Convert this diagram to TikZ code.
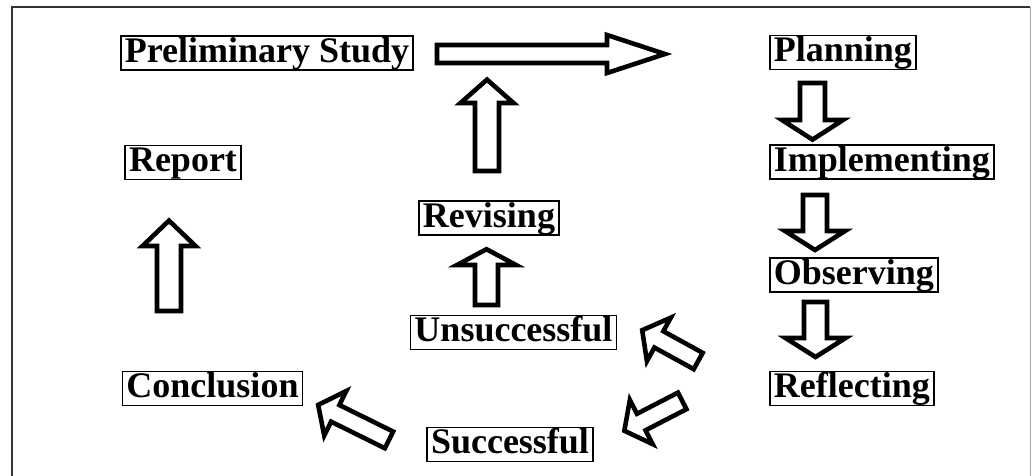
\documentclass[tikz,border=0pt]{standalone}
\usepackage{fontspec}
\setmainfont{Liberation Serif}
\tikzset{
  box/.style={draw=black, line width=1.8pt, fill=white, font=\fontsize{36}{40}\selectfont\bfseries,
    text height=25pt, text depth=7pt, inner xsep=4pt, inner ysep=1pt},
  barrow/.style={draw=black, fill=white, line width=4.6pt, line join=miter}
}
\newcommand\blockarrow[7]{%
  \draw[barrow, shift={(#1,#2)}, rotate=#3]
    (0,#6) -- (#4-#5,#6) -- (#4-#5,#7) -- (#4,0) -- (#4-#5,-#7) -- (#4-#5,-#6) -- (0,-#6) -- cycle;}
\begin{document}
\begin{tikzpicture}[x=1pt,y=-1pt]
\useasboundingbox (0,0) rectangle (1033,475);
% frame
\draw[line width=2pt, black!80] (11.5,476) -- (11.5,7) -- (1030,7);
\draw[line width=1pt, black!35] (1030,7) -- (1030,476);
% nodes
\node[box] (prelim) at (267,53) {Preliminary Study};
\node[box, anchor=west] (planning) at (769,52.5) {Planning};
\node[box, anchor=west] (impl) at (769,162) {Implementing};
\node[box, anchor=west] (obs) at (769,275) {Observing};
\node[box, anchor=west] (refl) at (769,388.5) {Reflecting};
\node[box] (report) at (183,162.5) {Report};
\node[box] (revis) at (489,218) {Revising};
\node[box] (unsucc) at (513.5,332.5) {Unsuccessful};
\node[box] (concl) at (212.5,388.5) {Conclusion};
\node[box] (succ) at (510,444.5) {Successful};
% block arrows
\blockarrow{437}{54}{0}{228}{58}{9}{19}
\blockarrow{487}{171}{90}{91.4}{23.4}{12}{26.5}
\blockarrow{812.5}{83}{-90}{56.6}{19.6}{12.5}{30.5}
\blockarrow{815}{195}{-90}{55}{19}{12}{30}
\blockarrow{815.5}{302}{-90}{55}{19}{11.5}{30}
\blockarrow{169}{311}{90}{90.4}{25.4}{12}{26.5}
\blockarrow{486.5}{305}{90}{55.8}{15.8}{11.5}{29.5}
\blockarrow{698.2}{361}{151.2}{63.9}{19}{9.3}{24.8}
\blockarrow{682.2}{400.9}{207.3}{65.1}{19}{9.3}{24.8}
\blockarrow{389}{439.9}{153.7}{79}{19}{9.3}{24.8}
\end{tikzpicture}
\end{document}
